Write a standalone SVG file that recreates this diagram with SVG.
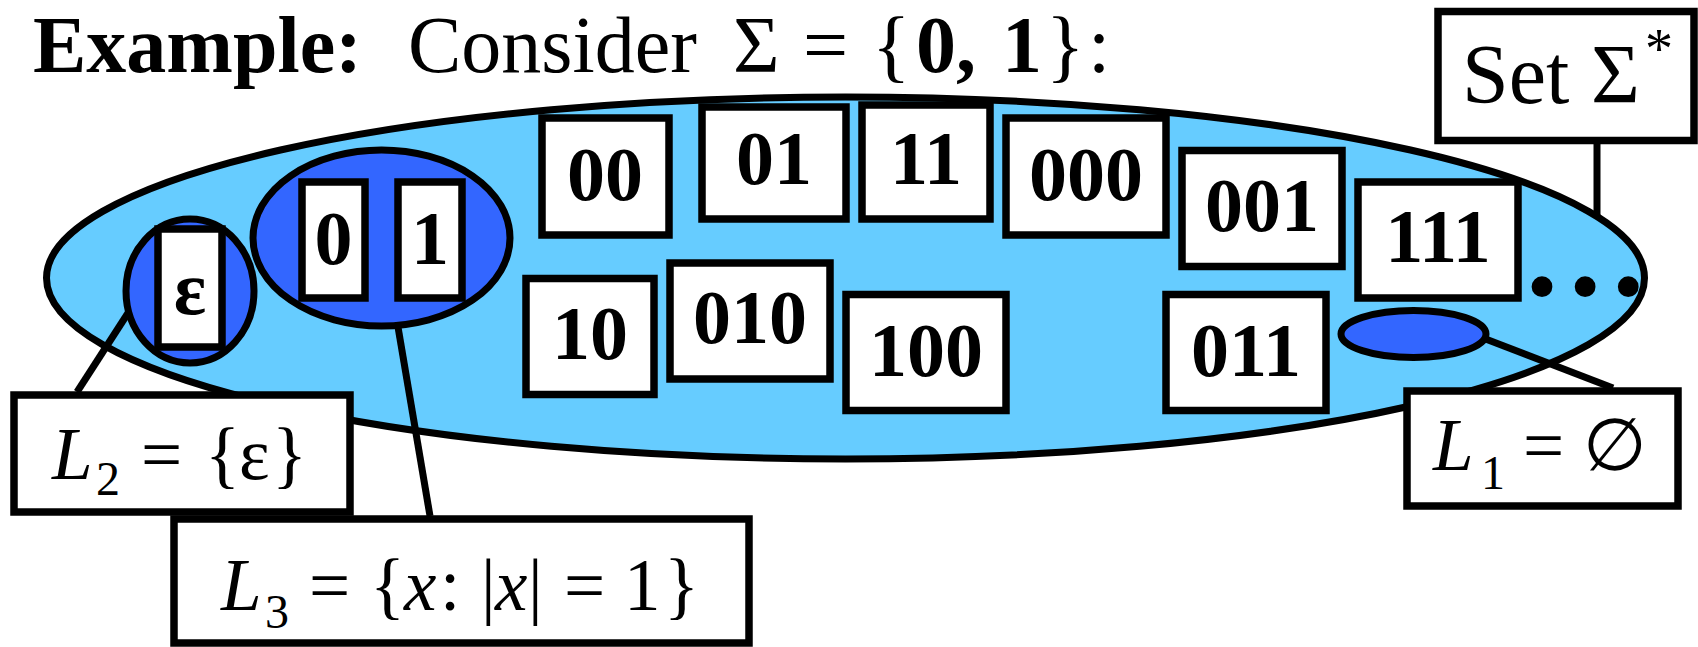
<svg xmlns="http://www.w3.org/2000/svg" width="1698" height="647" viewBox="0 0 1698 647" font-family="'Liberation Serif','Times New Roman',serif">
<style>
text{font-family:"Liberation Serif","Times New Roman",serif;fill:#000}
.set{fill:#66CCFF;stroke:#000;stroke-width:7}
.sub{fill:#3366FF;stroke:#000;stroke-width:7}
.box{fill:#fff;stroke:#000;stroke-width:7.5}
.str{font-size:76px;font-weight:bold;text-anchor:middle}
.lab{font-size:73px}
.it{font-style:italic}
.sb{font-size:48px}
.conn line{stroke:#000;stroke-width:7}
</style>
<rect width="1698" height="647" fill="#fff"/>
<g id="title">
<text x="33" y="71.5" font-size="80"><tspan font-weight="bold">Example:</tspan><tspan x="408">Consider</tspan><tspan x="733">Σ</tspan><tspan x="803">=</tspan><tspan x="872">{</tspan><tspan x="916" font-weight="bold">0,</tspan><tspan x="1002" font-weight="bold">1</tspan><tspan x="1046">}</tspan><tspan x="1088">:</tspan></text>
</g>
<g id="sigma-star-set">
<ellipse class="set" cx="845.5" cy="278" rx="799" ry="181"/>
</g>
<g id="L2-set">
<ellipse class="sub" cx="190" cy="291" rx="64" ry="72"/>
</g>
<g id="L3-set">
<ellipse class="sub" cx="381.5" cy="238" rx="128.5" ry="88"/>
</g>
<g id="L1-set">
<ellipse class="sub" cx="1413.5" cy="334" rx="72.5" ry="23.5"/>
</g>
<g id="s-eps"><rect class="box" x="158" y="229" width="64" height="118"/><text class="str" x="190" y="314">ε</text></g>
<g id="s-0"><rect class="box" x="302" y="182" width="63" height="116"/><text class="str" x="333.5" y="264">0</text></g>
<g id="s-1"><rect class="box" x="398" y="182" width="64" height="116"/><text class="str" x="430" y="264">1</text></g>
<g id="s-00"><rect class="box" x="542" y="118" width="127" height="117"/><text class="str" x="605" y="200">00</text></g>
<g id="s-01"><rect class="box" x="702" y="107" width="144" height="112"/><text class="str" x="774" y="184">01</text></g>
<g id="s-11"><rect class="box" x="862" y="105" width="128" height="114"/><text class="str" x="926" y="184">11</text></g>
<g id="s-000"><rect class="box" x="1006" y="118" width="160" height="117"/><text class="str" x="1086" y="200">000</text></g>
<g id="s-001"><rect class="box" x="1182" y="150.5" width="160" height="116"/><text class="str" x="1262" y="231">001</text></g>
<g id="s-111"><rect class="box" x="1358" y="182" width="160" height="116"/><text class="str" x="1438" y="262">111</text></g>
<g id="s-10"><rect class="box" x="526" y="278.5" width="128" height="116"/><text class="str" x="590" y="359">10</text></g>
<g id="s-010"><rect class="box" x="670" y="263" width="160" height="116"/><text class="str" x="750" y="342.5">010</text></g>
<g id="s-100"><rect class="box" x="846" y="294.5" width="160" height="116"/><text class="str" x="926" y="375.5">100</text></g>
<g id="s-011"><rect class="box" x="1166" y="294.5" width="160" height="116"/><text class="str" x="1246" y="375.5">011</text></g>
<g id="ellipsis"><text x="1521" y="295" font-size="128" font-weight="bold">…</text></g>
<g id="connectors" class="conn">
<line x1="1597" y1="144" x2="1597" y2="217"/>
<line x1="1483" y1="338" x2="1613" y2="388"/>
<line x1="128" y1="313" x2="77" y2="392"/>
<line x1="398" y1="327" x2="430" y2="516"/>
</g>
<g id="label-set">
<rect class="box" x="1438" y="11.5" width="256" height="129"/>
<text x="1462" y="103" font-size="84">Set<tspan x="1591">Σ</tspan><tspan x="1645" dy="-35" font-size="56">*</tspan></text>
</g>
<g id="label-L1">
<rect class="box" x="1407" y="391" width="271" height="115"/>
<text class="lab" x="1433" y="470"><tspan class="it">L</tspan><tspan class="sb" x="1481" y="489">1</tspan><tspan x="1523" y="470">=</tspan><tspan x="1583">∅</tspan></text>
</g>
<g id="label-L2">
<rect class="box" x="14" y="395" width="336" height="117"/>
<text class="lab" x="52" y="478.6"><tspan class="it">L</tspan><tspan class="sb" x="96" y="495">2</tspan><tspan x="141" y="478.6">=</tspan><tspan x="205">{</tspan><tspan x="239">ε</tspan><tspan x="272">}</tspan></text>
</g>
<g id="label-L3">
<rect class="box" x="174" y="519" width="575" height="124"/>
<text class="lab" x="221" y="610"><tspan class="it">L</tspan><tspan class="sb" x="265" y="628">3</tspan><tspan x="309" y="610">=</tspan><tspan x="370">{</tspan><tspan class="it" x="404">x</tspan><tspan x="440">:</tspan><tspan x="481">|</tspan><tspan class="it" x="495">x</tspan><tspan x="528">|</tspan><tspan x="564">=</tspan><tspan x="624">1</tspan><tspan x="664">}</tspan></text>
</g>
</svg>
